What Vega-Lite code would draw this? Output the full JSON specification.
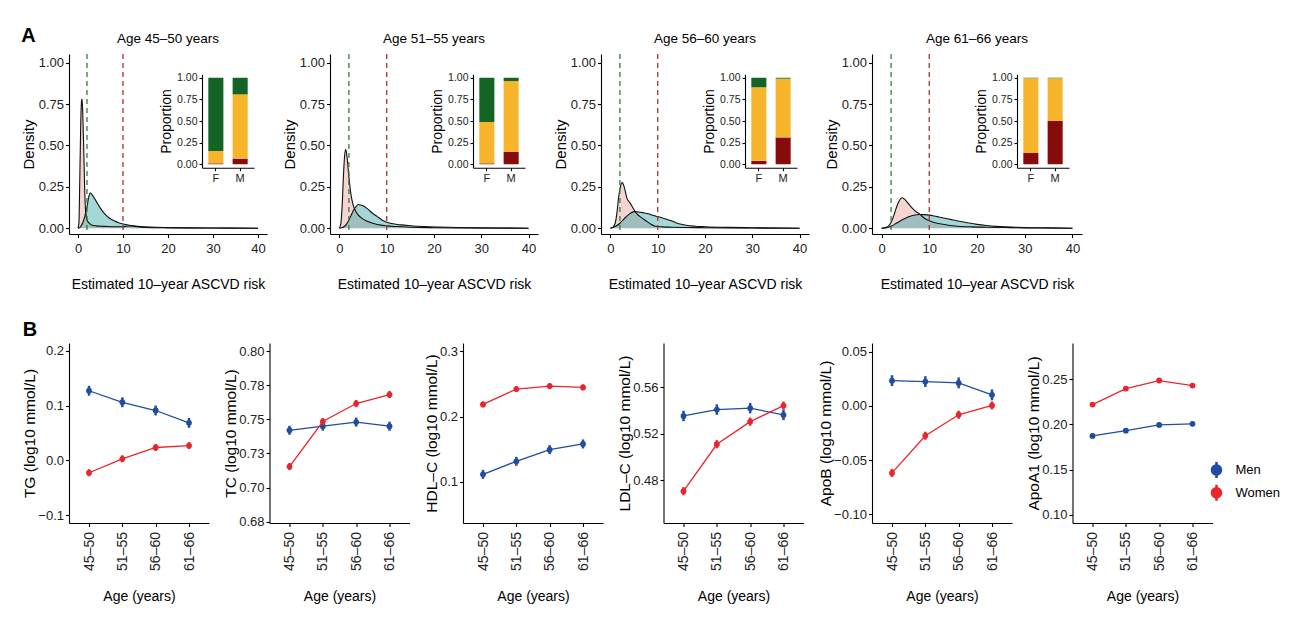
{
"$schema": "https://vega.github.io/schema/vega-lite/v6.json",
"background": "white",
"padding": {"left": 21, "top": 25, "right": 0, "bottom": 0},
"config": {
 "font": "Liberation Sans",
 "view": {"stroke": null},
 "axis": {"grid": false, "domainColor": "#000", "domainWidth": 1.1, "tickColor": "#000", "tickWidth": 1.1, "tickSize": 3.5, "labelColor": "#222", "labelFontSize": 13, "titleFontSize": 14, "titleFontWeight": "normal", "titleColor": "#000", "labelPadding": 2, "labelOverlap": false},
 "axisX": {"labelPadding": 5, "titlePadding": 22, "labelAngle": 0},
 "axisY": {"titlePadding": 2, "titleFontSize": 15},
 "title": {"color": "#000", "fontWeight": "normal", "fontSize": 13.5},
 "legend": {"labelColor": "#000", "titleColor": "#000", "padding": 0}
},
"datasets": {
 "dens": [
  {"age":"45–50","sex":"F","x":0,"d":0},{"age":"45–50","sex":"F","x":0.2,"d":0.03},{"age":"45–50","sex":"F","x":0.4,"d":0.3},{"age":"45–50","sex":"F","x":0.6,"d":0.62},{"age":"45–50","sex":"F","x":0.8,"d":0.77},{"age":"45–50","sex":"F","x":0.9,"d":0.78},{"age":"45–50","sex":"F","x":1.05,"d":0.7},{"age":"45–50","sex":"F","x":1.3,"d":0.45},{"age":"45–50","sex":"F","x":1.5,"d":0.22},{"age":"45–50","sex":"F","x":1.7,"d":0.1},{"age":"45–50","sex":"F","x":2,"d":0.05},{"age":"45–50","sex":"F","x":2.5,"d":0.03},{"age":"45–50","sex":"F","x":3,"d":0.02},{"age":"45–50","sex":"F","x":4,"d":0.014},{"age":"45–50","sex":"F","x":5,"d":0.012},{"age":"45–50","sex":"F","x":6,"d":0.011},{"age":"45–50","sex":"F","x":8,"d":0.009},{"age":"45–50","sex":"F","x":10,"d":0.009},{"age":"45–50","sex":"F","x":11,"d":0.013},{"age":"45–50","sex":"F","x":12,"d":0.014},{"age":"45–50","sex":"F","x":13,"d":0.009},{"age":"45–50","sex":"F","x":15,"d":0.004},{"age":"45–50","sex":"F","x":20,"d":0.002},{"age":"45–50","sex":"F","x":25,"d":0.001},{"age":"45–50","sex":"F","x":30,"d":0.0008},{"age":"45–50","sex":"F","x":35,"d":0.0004},{"age":"45–50","sex":"F","x":40,"d":0},
  {"age":"45–50","sex":"M","x":0,"d":0},{"age":"45–50","sex":"M","x":0.3,"d":0.002},{"age":"45–50","sex":"M","x":1,"d":0.03},{"age":"45–50","sex":"M","x":1.5,"d":0.07},{"age":"45–50","sex":"M","x":2,"d":0.13},{"age":"45–50","sex":"M","x":2.4,"d":0.19},{"age":"45–50","sex":"M","x":2.7,"d":0.214},{"age":"45–50","sex":"M","x":3.2,"d":0.2},{"age":"45–50","sex":"M","x":4,"d":0.165},{"age":"45–50","sex":"M","x":5,"d":0.12},{"age":"45–50","sex":"M","x":6,"d":0.085},{"age":"45–50","sex":"M","x":7,"d":0.06},{"age":"45–50","sex":"M","x":8,"d":0.045},{"age":"45–50","sex":"M","x":9,"d":0.033},{"age":"45–50","sex":"M","x":10,"d":0.025},{"age":"45–50","sex":"M","x":12,"d":0.015},{"age":"45–50","sex":"M","x":14,"d":0.01},{"age":"45–50","sex":"M","x":16,"d":0.007},{"age":"45–50","sex":"M","x":20,"d":0.004},{"age":"45–50","sex":"M","x":25,"d":0.002},{"age":"45–50","sex":"M","x":30,"d":0.001},{"age":"45–50","sex":"M","x":40,"d":0},
  {"age":"51–55","sex":"F","x":0,"d":0},{"age":"51–55","sex":"F","x":0.3,"d":0.03},{"age":"51–55","sex":"F","x":0.6,"d":0.15},{"age":"51–55","sex":"F","x":0.85,"d":0.32},{"age":"51–55","sex":"F","x":1.1,"d":0.44},{"age":"51–55","sex":"F","x":1.33,"d":0.477},{"age":"51–55","sex":"F","x":1.6,"d":0.43},{"age":"51–55","sex":"F","x":2,"d":0.31},{"age":"51–55","sex":"F","x":2.4,"d":0.21},{"age":"51–55","sex":"F","x":2.8,"d":0.15},{"age":"51–55","sex":"F","x":3.5,"d":0.1},{"age":"51–55","sex":"F","x":4.5,"d":0.065},{"age":"51–55","sex":"F","x":6,"d":0.04},{"age":"51–55","sex":"F","x":8,"d":0.022},{"age":"51–55","sex":"F","x":10,"d":0.014},{"age":"51–55","sex":"F","x":12,"d":0.01},{"age":"51–55","sex":"F","x":15,"d":0.006},{"age":"51–55","sex":"F","x":20,"d":0.003},{"age":"51–55","sex":"F","x":25,"d":0.0015},{"age":"51–55","sex":"F","x":30,"d":0.001},{"age":"51–55","sex":"F","x":40,"d":0},
  {"age":"51–55","sex":"M","x":0,"d":0},{"age":"51–55","sex":"M","x":0.5,"d":0.003},{"age":"51–55","sex":"M","x":1,"d":0.01},{"age":"51–55","sex":"M","x":1.5,"d":0.025},{"age":"51–55","sex":"M","x":2,"d":0.05},{"age":"51–55","sex":"M","x":2.5,"d":0.08},{"age":"51–55","sex":"M","x":3,"d":0.11},{"age":"51–55","sex":"M","x":3.5,"d":0.13},{"age":"51–55","sex":"M","x":4,"d":0.143},{"age":"51–55","sex":"M","x":4.5,"d":0.14},{"age":"51–55","sex":"M","x":5,"d":0.135},{"age":"51–55","sex":"M","x":6,"d":0.115},{"age":"51–55","sex":"M","x":7,"d":0.09},{"age":"51–55","sex":"M","x":8,"d":0.07},{"age":"51–55","sex":"M","x":9,"d":0.05},{"age":"51–55","sex":"M","x":10,"d":0.036},{"age":"51–55","sex":"M","x":11,"d":0.028},{"age":"51–55","sex":"M","x":13,"d":0.02},{"age":"51–55","sex":"M","x":15,"d":0.015},{"age":"51–55","sex":"M","x":18,"d":0.01},{"age":"51–55","sex":"M","x":21,"d":0.007},{"age":"51–55","sex":"M","x":25,"d":0.004},{"age":"51–55","sex":"M","x":30,"d":0.002},{"age":"51–55","sex":"M","x":35,"d":0.001},{"age":"51–55","sex":"M","x":40,"d":0},
  {"age":"56–60","sex":"F","x":0,"d":0},{"age":"56–60","sex":"F","x":0.5,"d":0.005},{"age":"56–60","sex":"F","x":1,"d":0.03},{"age":"56–60","sex":"F","x":1.4,"d":0.1},{"age":"56–60","sex":"F","x":1.7,"d":0.18},{"age":"56–60","sex":"F","x":2.1,"d":0.25},{"age":"56–60","sex":"F","x":2.5,"d":0.275},{"age":"56–60","sex":"F","x":2.9,"d":0.25},{"age":"56–60","sex":"F","x":3.5,"d":0.18},{"age":"56–60","sex":"F","x":4.2,"d":0.15},{"age":"56–60","sex":"F","x":4.8,"d":0.12},{"age":"56–60","sex":"F","x":5.5,"d":0.09},{"age":"56–60","sex":"F","x":6.5,"d":0.065},{"age":"56–60","sex":"F","x":7.5,"d":0.045},{"age":"56–60","sex":"F","x":8.5,"d":0.025},{"age":"56–60","sex":"F","x":9.5,"d":0.012},{"age":"56–60","sex":"F","x":11,"d":0.008},{"age":"56–60","sex":"F","x":13,"d":0.006},{"age":"56–60","sex":"F","x":16,"d":0.004},{"age":"56–60","sex":"F","x":20,"d":0.003},{"age":"56–60","sex":"F","x":25,"d":0.002},{"age":"56–60","sex":"F","x":30,"d":0.001},{"age":"56–60","sex":"F","x":40,"d":0},
  {"age":"56–60","sex":"M","x":0,"d":0},{"age":"56–60","sex":"M","x":1,"d":0.01},{"age":"56–60","sex":"M","x":2,"d":0.03},{"age":"56–60","sex":"M","x":3,"d":0.06},{"age":"56–60","sex":"M","x":4,"d":0.085},{"age":"56–60","sex":"M","x":5,"d":0.1},{"age":"56–60","sex":"M","x":6,"d":0.098},{"age":"56–60","sex":"M","x":7,"d":0.093},{"age":"56–60","sex":"M","x":8,"d":0.087},{"age":"56–60","sex":"M","x":9,"d":0.078},{"age":"56–60","sex":"M","x":10,"d":0.07},{"age":"56–60","sex":"M","x":11,"d":0.062},{"age":"56–60","sex":"M","x":12,"d":0.053},{"age":"56–60","sex":"M","x":13,"d":0.043},{"age":"56–60","sex":"M","x":14,"d":0.032},{"age":"56–60","sex":"M","x":15,"d":0.024},{"age":"56–60","sex":"M","x":16,"d":0.018},{"age":"56–60","sex":"M","x":18,"d":0.012},{"age":"56–60","sex":"M","x":20,"d":0.009},{"age":"56–60","sex":"M","x":25,"d":0.005},{"age":"56–60","sex":"M","x":30,"d":0.003},{"age":"56–60","sex":"M","x":35,"d":0.001},{"age":"56–60","sex":"M","x":40,"d":0},
  {"age":"61–66","sex":"F","x":0,"d":0},{"age":"61–66","sex":"F","x":1,"d":0.005},{"age":"61–66","sex":"F","x":1.9,"d":0.03},{"age":"61–66","sex":"F","x":2.5,"d":0.07},{"age":"61–66","sex":"F","x":3,"d":0.115},{"age":"61–66","sex":"F","x":3.6,"d":0.16},{"age":"61–66","sex":"F","x":4.3,"d":0.184},{"age":"61–66","sex":"F","x":5,"d":0.17},{"age":"61–66","sex":"F","x":6,"d":0.135},{"age":"61–66","sex":"F","x":7,"d":0.105},{"age":"61–66","sex":"F","x":8,"d":0.085},{"age":"61–66","sex":"F","x":9,"d":0.06},{"age":"61–66","sex":"F","x":10,"d":0.045},{"age":"61–66","sex":"F","x":11,"d":0.035},{"age":"61–66","sex":"F","x":12.5,"d":0.025},{"age":"61–66","sex":"F","x":14,"d":0.018},{"age":"61–66","sex":"F","x":16,"d":0.012},{"age":"61–66","sex":"F","x":19,"d":0.008},{"age":"61–66","sex":"F","x":22,"d":0.006},{"age":"61–66","sex":"F","x":26,"d":0.004},{"age":"61–66","sex":"F","x":30,"d":0.002},{"age":"61–66","sex":"F","x":35,"d":0.001},{"age":"61–66","sex":"F","x":40,"d":0},
  {"age":"61–66","sex":"M","x":0,"d":0},{"age":"61–66","sex":"M","x":1,"d":0.003},{"age":"61–66","sex":"M","x":2,"d":0.012},{"age":"61–66","sex":"M","x":3,"d":0.028},{"age":"61–66","sex":"M","x":4,"d":0.045},{"age":"61–66","sex":"M","x":5,"d":0.06},{"age":"61–66","sex":"M","x":6,"d":0.072},{"age":"61–66","sex":"M","x":7,"d":0.08},{"age":"61–66","sex":"M","x":8,"d":0.083},{"age":"61–66","sex":"M","x":9,"d":0.082},{"age":"61–66","sex":"M","x":10,"d":0.079},{"age":"61–66","sex":"M","x":11,"d":0.074},{"age":"61–66","sex":"M","x":12,"d":0.068},{"age":"61–66","sex":"M","x":13,"d":0.062},{"age":"61–66","sex":"M","x":14,"d":0.056},{"age":"61–66","sex":"M","x":15,"d":0.05},{"age":"61–66","sex":"M","x":16,"d":0.044},{"age":"61–66","sex":"M","x":18,"d":0.033},{"age":"61–66","sex":"M","x":20,"d":0.023},{"age":"61–66","sex":"M","x":22,"d":0.016},{"age":"61–66","sex":"M","x":24,"d":0.011},{"age":"61–66","sex":"M","x":26,"d":0.008},{"age":"61–66","sex":"M","x":28,"d":0.006},{"age":"61–66","sex":"M","x":30,"d":0.004},{"age":"61–66","sex":"M","x":35,"d":0.002},{"age":"61–66","sex":"M","x":40,"d":0}
 ],
 "cut": [
  {"age":"45–50","risk":"low","x":2},{"age":"45–50","risk":"high","x":10},
  {"age":"51–55","risk":"low","x":2},{"age":"51–55","risk":"high","x":10},
  {"age":"56–60","risk":"low","x":2},{"age":"56–60","risk":"high","x":10},
  {"age":"61–66","risk":"low","x":2},{"age":"61–66","risk":"high","x":10}
 ],
 "prop": [
  {"age":"45–50","sex":"F","risk":"High risk","k":1,"p":0.01},{"age":"45–50","sex":"F","risk":"Intermediate risk","k":2,"p":0.144},{"age":"45–50","sex":"F","risk":"Low risk","k":3,"p":0.846},
  {"age":"45–50","sex":"M","risk":"High risk","k":1,"p":0.065},{"age":"45–50","sex":"M","risk":"Intermediate risk","k":2,"p":0.743},{"age":"45–50","sex":"M","risk":"Low risk","k":3,"p":0.192},
  {"age":"51–55","sex":"F","risk":"High risk","k":1,"p":0.01},{"age":"51–55","sex":"F","risk":"Intermediate risk","k":2,"p":0.478},{"age":"51–55","sex":"F","risk":"Low risk","k":3,"p":0.512},
  {"age":"51–55","sex":"M","risk":"High risk","k":1,"p":0.145},{"age":"51–55","sex":"M","risk":"Intermediate risk","k":2,"p":0.817},{"age":"51–55","sex":"M","risk":"Low risk","k":3,"p":0.038},
  {"age":"56–60","sex":"F","risk":"High risk","k":1,"p":0.04},{"age":"56–60","sex":"F","risk":"Intermediate risk","k":2,"p":0.85},{"age":"56–60","sex":"F","risk":"Low risk","k":3,"p":0.11},
  {"age":"56–60","sex":"M","risk":"High risk","k":1,"p":0.31},{"age":"56–60","sex":"M","risk":"Intermediate risk","k":2,"p":0.68},{"age":"56–60","sex":"M","risk":"Low risk","k":3,"p":0.01},
  {"age":"61–66","sex":"F","risk":"High risk","k":1,"p":0.13},{"age":"61–66","sex":"F","risk":"Intermediate risk","k":2,"p":0.865},{"age":"61–66","sex":"F","risk":"Low risk","k":3,"p":0.005},
  {"age":"61–66","sex":"M","risk":"High risk","k":1,"p":0.5},{"age":"61–66","sex":"M","risk":"Intermediate risk","k":2,"p":0.495},{"age":"61–66","sex":"M","risk":"Low risk","k":3,"p":0.005}
 ],
 "lip": [
  {"m":"TG","sex":"Men","age":"45–50","v":0.127,"lo":0.118,"hi":0.136},{"m":"TG","sex":"Men","age":"51–55","v":0.106,"lo":0.097,"hi":0.115},{"m":"TG","sex":"Men","age":"56–60","v":0.091,"lo":0.082,"hi":0.1},{"m":"TG","sex":"Men","age":"61–66","v":0.0685,"lo":0.0595,"hi":0.0775},
  {"m":"TG","sex":"Women","age":"45–50","v":-0.0224,"lo":-0.0288,"hi":-0.016},{"m":"TG","sex":"Women","age":"51–55","v":0.003,"lo":-0.0034,"hi":0.0094},{"m":"TG","sex":"Women","age":"56–60","v":0.0236,"lo":0.0172,"hi":0.03},{"m":"TG","sex":"Women","age":"61–66","v":0.027,"lo":0.0206,"hi":0.0334},
  {"m":"TC","sex":"Men","age":"45–50","v":0.742,"lo":0.7387,"hi":0.7453},{"m":"TC","sex":"Men","age":"51–55","v":0.745,"lo":0.7417,"hi":0.7483},{"m":"TC","sex":"Men","age":"56–60","v":0.748,"lo":0.7447,"hi":0.7513},{"m":"TC","sex":"Men","age":"61–66","v":0.745,"lo":0.7417,"hi":0.7483},
  {"m":"TC","sex":"Women","age":"45–50","v":0.7154,"lo":0.7128,"hi":0.718},{"m":"TC","sex":"Women","age":"51–55","v":0.7484,"lo":0.7458,"hi":0.751},{"m":"TC","sex":"Women","age":"56–60","v":0.7616,"lo":0.759,"hi":0.7642},{"m":"TC","sex":"Women","age":"61–66","v":0.7682,"lo":0.7656,"hi":0.7708},
  {"m":"HDL","sex":"Men","age":"45–50","v":0.1116,"lo":0.1047,"hi":0.1185},{"m":"HDL","sex":"Men","age":"51–55","v":0.1316,"lo":0.1247,"hi":0.1385},{"m":"HDL","sex":"Men","age":"56–60","v":0.1495,"lo":0.1426,"hi":0.1564},{"m":"HDL","sex":"Men","age":"61–66","v":0.1582,"lo":0.1513,"hi":0.1651},
  {"m":"HDL","sex":"Women","age":"45–50","v":0.2188,"lo":0.2142,"hi":0.2234},{"m":"HDL","sex":"Women","age":"51–55","v":0.2424,"lo":0.2378,"hi":0.247},{"m":"HDL","sex":"Women","age":"56–60","v":0.247,"lo":0.2424,"hi":0.2516},{"m":"HDL","sex":"Women","age":"61–66","v":0.2449,"lo":0.2403,"hi":0.2495},
  {"m":"LDL","sex":"Men","age":"45–50","v":0.5352,"lo":0.5307,"hi":0.5397},{"m":"LDL","sex":"Men","age":"51–55","v":0.5407,"lo":0.5362,"hi":0.5452},{"m":"LDL","sex":"Men","age":"56–60","v":0.5419,"lo":0.5374,"hi":0.5464},{"m":"LDL","sex":"Men","age":"61–66","v":0.5361,"lo":0.5316,"hi":0.5406},
  {"m":"LDL","sex":"Women","age":"45–50","v":0.4704,"lo":0.4669,"hi":0.4739},{"m":"LDL","sex":"Women","age":"51–55","v":0.5108,"lo":0.5073,"hi":0.5143},{"m":"LDL","sex":"Women","age":"56–60","v":0.5303,"lo":0.5268,"hi":0.5338},{"m":"LDL","sex":"Women","age":"61–66","v":0.5441,"lo":0.5406,"hi":0.5476},
  {"m":"ApoB","sex":"Men","age":"45–50","v":0.0233,"lo":0.0183,"hi":0.0283},{"m":"ApoB","sex":"Men","age":"51–55","v":0.0224,"lo":0.0174,"hi":0.0274},{"m":"ApoB","sex":"Men","age":"56–60","v":0.0212,"lo":0.0162,"hi":0.0262},{"m":"ApoB","sex":"Men","age":"61–66","v":0.0102,"lo":0.0052,"hi":0.0152},
  {"m":"ApoB","sex":"Women","age":"45–50","v":-0.0618,"lo":-0.0655,"hi":-0.0581},{"m":"ApoB","sex":"Women","age":"51–55","v":-0.0275,"lo":-0.0312,"hi":-0.0238},{"m":"ApoB","sex":"Women","age":"56–60","v":-0.0082,"lo":-0.0119,"hi":-0.0045},{"m":"ApoB","sex":"Women","age":"61–66","v":0.0004,"lo":-0.0033,"hi":0.0041},
  {"m":"ApoA1","sex":"Men","age":"45–50","v":0.1873,"lo":0.1848,"hi":0.1898},{"m":"ApoA1","sex":"Men","age":"51–55","v":0.1931,"lo":0.1906,"hi":0.1956},{"m":"ApoA1","sex":"Men","age":"56–60","v":0.1994,"lo":0.1969,"hi":0.2019},{"m":"ApoA1","sex":"Men","age":"61–66","v":0.2006,"lo":0.1981,"hi":0.2031},
  {"m":"ApoA1","sex":"Women","age":"45–50","v":0.2219,"lo":0.2194,"hi":0.2244},{"m":"ApoA1","sex":"Women","age":"51–55","v":0.2396,"lo":0.2371,"hi":0.2421},{"m":"ApoA1","sex":"Women","age":"56–60","v":0.2485,"lo":0.246,"hi":0.251},{"m":"ApoA1","sex":"Women","age":"61–66","v":0.2429,"lo":0.2404,"hi":0.2454}
 ]
},
"vconcat": [
 {
  "title": {"text": "A", "anchor": "start", "fontSize": 20, "fontWeight": "bold", "offset": -14},
  "spacing": 15,
  "resolve": {"scale": {"color": "independent"}},
  "hconcat": [
   {
    "width": 198, "height": 180,
    "title": {"text": "Age 45–50 years", "frame": "group", "offset": 8, "fontSize": 13.5},
    "resolve": {"scale": {"x": "independent", "y": "independent"}, "axis": {"x": "independent", "y": "independent"}},
    "layer": [
     {
      "encoding": {"x": {"field": "x", "type": "quantitative", "scale": {"domain": [-2, 42], "nice": false, "zero": false}, "axis": {"values": [0,10,20,30,40], "title": "Estimated 10–year ASCVD risk"}}},
      "layer": [
       {"data": {"name": "dens"}, "transform": [{"filter": "datum.age === '45–50' && datum.sex === 'F'"}], "mark": {"type": "area", "interpolate": "monotone", "color": "#E89C93", "opacity": 0.42}, "encoding": {"y": {"field": "d", "type": "quantitative", "stack": null, "scale": {"domain": [-0.035, 1.052], "nice": false, "zero": false}, "axis": {"values": [0,0.25,0.5,0.75,1], "format": ".2f", "title": "Density"}}}},
       {"data": {"name": "dens"}, "transform": [{"filter": "datum.age === '45–50' && datum.sex === 'M'"}], "mark": {"type": "area", "interpolate": "monotone", "color": "#2A9FA0", "opacity": 0.42}, "encoding": {"y": {"field": "d", "type": "quantitative", "stack": null, "scale": {"domain": [-0.035, 1.052], "nice": false, "zero": false}, "axis": {"values": [0,0.25,0.5,0.75,1], "format": ".2f", "title": "Density"}}}},
       {"data": {"name": "dens"}, "transform": [{"filter": "datum.age === '45–50'"}], "mark": {"type": "line", "interpolate": "monotone", "color": "#111", "strokeWidth": 1.1}, "encoding": {"detail": {"field": "sex"}, "y": {"field": "d", "type": "quantitative", "stack": null, "scale": {"domain": [-0.035, 1.052], "nice": false, "zero": false}, "axis": {"values": [0,0.25,0.5,0.75,1], "format": ".2f", "title": "Density"}}}},
       {"data": {"name": "cut"}, "transform": [{"filter": "datum.age === '45–50'"}], "mark": {"type": "rule", "strokeWidth": 1.3, "strokeDash": [5, 4]}, "encoding": {"x": {"field": "x", "type": "quantitative"}, "color": {"field": "risk", "type": "nominal", "scale": {"domain": ["low","high"], "range": ["#2F7F3F","#A83232"]}, "legend": null}}}
      ]
     },
     {
      "data": {"name": "prop"},
      "transform": [{"filter": "datum.age === '45–50'"}],
      "mark": {"type": "bar"},
      "encoding": {
       "x": {"field": "sex", "type": "nominal", "scale": {"domain": ["F","M"], "range": [133, 185], "paddingInner": 0.38, "paddingOuter": 0.26}, "axis": {"orient": "bottom", "offset": -66.3, "title": null, "labelAngle": 0, "labelPadding": 2, "labelFontSize": 11, "tickSize": 3}},
       "y": {"field": "p", "type": "quantitative", "stack": "zero", "scale": {"domain": [-0.04, 1.04], "range": [113.7, 20.3], "nice": false, "zero": false}, "axis": {"orient": "left", "offset": -133, "values": [0,0.25,0.5,0.75,1], "tickCount": 10, "format": ".2f", "title": "Proportion", "labelFontSize": 10.5, "tickSize": 3, "titlePadding": 3, "titleFontSize": 14}},
       "fill": {"field": "risk", "type": "nominal", "scale": {"domain": ["Low risk","Intermediate risk","High risk"], "range": ["#146426","#F7B52C","#870B0D"]}, "legend": null},
       "order": {"field": "k", "type": "quantitative"}
      }
     }
    ]
   },
   {
    "width": 208, "height": 180,
    "title": {"text": "Age 51–55 years", "frame": "group", "offset": 8, "fontSize": 13.5},
    "resolve": {"scale": {"x": "independent", "y": "independent"}, "axis": {"x": "independent", "y": "independent"}},
    "layer": [
     {
      "encoding": {"x": {"field": "x", "type": "quantitative", "scale": {"domain": [-2, 42], "nice": false, "zero": false}, "axis": {"values": [0,10,20,30,40], "title": "Estimated 10–year ASCVD risk"}}},
      "layer": [
       {"data": {"name": "dens"}, "transform": [{"filter": "datum.age === '51–55' && datum.sex === 'F'"}], "mark": {"type": "area", "interpolate": "monotone", "color": "#E89C93", "opacity": 0.42}, "encoding": {"y": {"field": "d", "type": "quantitative", "stack": null, "scale": {"domain": [-0.035, 1.052], "nice": false, "zero": false}, "axis": {"values": [0,0.25,0.5,0.75,1], "format": ".2f", "title": "Density"}}}},
       {"data": {"name": "dens"}, "transform": [{"filter": "datum.age === '51–55' && datum.sex === 'M'"}], "mark": {"type": "area", "interpolate": "monotone", "color": "#2A9FA0", "opacity": 0.42}, "encoding": {"y": {"field": "d", "type": "quantitative", "stack": null, "scale": {"domain": [-0.035, 1.052], "nice": false, "zero": false}, "axis": {"values": [0,0.25,0.5,0.75,1], "format": ".2f", "title": "Density"}}}},
       {"data": {"name": "dens"}, "transform": [{"filter": "datum.age === '51–55'"}], "mark": {"type": "line", "interpolate": "monotone", "color": "#111", "strokeWidth": 1.1}, "encoding": {"detail": {"field": "sex"}, "y": {"field": "d", "type": "quantitative", "stack": null, "scale": {"domain": [-0.035, 1.052], "nice": false, "zero": false}, "axis": {"values": [0,0.25,0.5,0.75,1], "format": ".2f", "title": "Density"}}}},
       {"data": {"name": "cut"}, "transform": [{"filter": "datum.age === '51–55'"}], "mark": {"type": "rule", "strokeWidth": 1.3, "strokeDash": [5, 4]}, "encoding": {"x": {"field": "x", "type": "quantitative"}, "color": {"field": "risk", "type": "nominal", "scale": {"domain": ["low","high"], "range": ["#2F7F3F","#A83232"]}, "legend": null}}}
      ]
     },
     {
      "data": {"name": "prop"},
      "transform": [{"filter": "datum.age === '51–55'"}],
      "mark": {"type": "bar"},
      "encoding": {
       "x": {"field": "sex", "type": "nominal", "scale": {"domain": ["F","M"], "range": [143, 195], "paddingInner": 0.38, "paddingOuter": 0.26}, "axis": {"orient": "bottom", "offset": -66.3, "title": null, "labelAngle": 0, "labelPadding": 2, "labelFontSize": 11, "tickSize": 3}},
       "y": {"field": "p", "type": "quantitative", "stack": "zero", "scale": {"domain": [-0.04, 1.04], "range": [113.7, 20.3], "nice": false, "zero": false}, "axis": {"orient": "left", "offset": -143, "values": [0,0.25,0.5,0.75,1], "tickCount": 10, "format": ".2f", "title": "Proportion", "labelFontSize": 10.5, "tickSize": 3, "titlePadding": 3, "titleFontSize": 14}},
       "fill": {"field": "risk", "type": "nominal", "scale": {"domain": ["Low risk","Intermediate risk","High risk"], "range": ["#146426","#F7B52C","#870B0D"]}, "legend": null},
       "order": {"field": "k", "type": "quantitative"}
      }
     }
    ]
   },
   {
    "width": 208, "height": 180,
    "title": {"text": "Age 56–60 years", "frame": "group", "offset": 8, "fontSize": 13.5},
    "resolve": {"scale": {"x": "independent", "y": "independent"}, "axis": {"x": "independent", "y": "independent"}},
    "layer": [
     {
      "encoding": {"x": {"field": "x", "type": "quantitative", "scale": {"domain": [-2, 42], "nice": false, "zero": false}, "axis": {"values": [0,10,20,30,40], "title": "Estimated 10–year ASCVD risk"}}},
      "layer": [
       {"data": {"name": "dens"}, "transform": [{"filter": "datum.age === '56–60' && datum.sex === 'F'"}], "mark": {"type": "area", "interpolate": "monotone", "color": "#E89C93", "opacity": 0.42}, "encoding": {"y": {"field": "d", "type": "quantitative", "stack": null, "scale": {"domain": [-0.035, 1.052], "nice": false, "zero": false}, "axis": {"values": [0,0.25,0.5,0.75,1], "format": ".2f", "title": "Density"}}}},
       {"data": {"name": "dens"}, "transform": [{"filter": "datum.age === '56–60' && datum.sex === 'M'"}], "mark": {"type": "area", "interpolate": "monotone", "color": "#2A9FA0", "opacity": 0.42}, "encoding": {"y": {"field": "d", "type": "quantitative", "stack": null, "scale": {"domain": [-0.035, 1.052], "nice": false, "zero": false}, "axis": {"values": [0,0.25,0.5,0.75,1], "format": ".2f", "title": "Density"}}}},
       {"data": {"name": "dens"}, "transform": [{"filter": "datum.age === '56–60'"}], "mark": {"type": "line", "interpolate": "monotone", "color": "#111", "strokeWidth": 1.1}, "encoding": {"detail": {"field": "sex"}, "y": {"field": "d", "type": "quantitative", "stack": null, "scale": {"domain": [-0.035, 1.052], "nice": false, "zero": false}, "axis": {"values": [0,0.25,0.5,0.75,1], "format": ".2f", "title": "Density"}}}},
       {"data": {"name": "cut"}, "transform": [{"filter": "datum.age === '56–60'"}], "mark": {"type": "rule", "strokeWidth": 1.3, "strokeDash": [5, 4]}, "encoding": {"x": {"field": "x", "type": "quantitative"}, "color": {"field": "risk", "type": "nominal", "scale": {"domain": ["low","high"], "range": ["#2F7F3F","#A83232"]}, "legend": null}}}
      ]
     },
     {
      "data": {"name": "prop"},
      "transform": [{"filter": "datum.age === '56–60'"}],
      "mark": {"type": "bar"},
      "encoding": {
       "x": {"field": "sex", "type": "nominal", "scale": {"domain": ["F","M"], "range": [144, 196], "paddingInner": 0.38, "paddingOuter": 0.26}, "axis": {"orient": "bottom", "offset": -66.3, "title": null, "labelAngle": 0, "labelPadding": 2, "labelFontSize": 11, "tickSize": 3}},
       "y": {"field": "p", "type": "quantitative", "stack": "zero", "scale": {"domain": [-0.04, 1.04], "range": [113.7, 20.3], "nice": false, "zero": false}, "axis": {"orient": "left", "offset": -144, "values": [0,0.25,0.5,0.75,1], "tickCount": 10, "format": ".2f", "title": "Proportion", "labelFontSize": 10.5, "tickSize": 3, "titlePadding": 3, "titleFontSize": 14}},
       "fill": {"field": "risk", "type": "nominal", "scale": {"domain": ["Low risk","Intermediate risk","High risk"], "range": ["#146426","#F7B52C","#870B0D"]}, "legend": null},
       "order": {"field": "k", "type": "quantitative"}
      }
     }
    ]
   },
   {
    "width": 210, "height": 180,
    "title": {"text": "Age 61–66 years", "frame": "group", "offset": 8, "fontSize": 13.5},
    "resolve": {"scale": {"x": "independent", "y": "independent"}, "axis": {"x": "independent", "y": "independent"}},
    "layer": [
     {
      "encoding": {"x": {"field": "x", "type": "quantitative", "scale": {"domain": [-2, 42], "nice": false, "zero": false}, "axis": {"values": [0,10,20,30,40], "title": "Estimated 10–year ASCVD risk"}}},
      "layer": [
       {"data": {"name": "dens"}, "transform": [{"filter": "datum.age === '61–66' && datum.sex === 'F'"}], "mark": {"type": "area", "interpolate": "monotone", "color": "#E89C93", "opacity": 0.42}, "encoding": {"y": {"field": "d", "type": "quantitative", "stack": null, "scale": {"domain": [-0.035, 1.052], "nice": false, "zero": false}, "axis": {"values": [0,0.25,0.5,0.75,1], "format": ".2f", "title": "Density"}}}},
       {"data": {"name": "dens"}, "transform": [{"filter": "datum.age === '61–66' && datum.sex === 'M'"}], "mark": {"type": "area", "interpolate": "monotone", "color": "#2A9FA0", "opacity": 0.42}, "encoding": {"y": {"field": "d", "type": "quantitative", "stack": null, "scale": {"domain": [-0.035, 1.052], "nice": false, "zero": false}, "axis": {"values": [0,0.25,0.5,0.75,1], "format": ".2f", "title": "Density"}}}},
       {"data": {"name": "dens"}, "transform": [{"filter": "datum.age === '61–66'"}], "mark": {"type": "line", "interpolate": "monotone", "color": "#111", "strokeWidth": 1.1}, "encoding": {"detail": {"field": "sex"}, "y": {"field": "d", "type": "quantitative", "stack": null, "scale": {"domain": [-0.035, 1.052], "nice": false, "zero": false}, "axis": {"values": [0,0.25,0.5,0.75,1], "format": ".2f", "title": "Density"}}}},
       {"data": {"name": "cut"}, "transform": [{"filter": "datum.age === '61–66'"}], "mark": {"type": "rule", "strokeWidth": 1.3, "strokeDash": [5, 4]}, "encoding": {"x": {"field": "x", "type": "quantitative"}, "color": {"field": "risk", "type": "nominal", "scale": {"domain": ["low","high"], "range": ["#2F7F3F","#A83232"]}, "legend": null}}}
      ]
     },
     {
      "data": {"name": "prop"},
      "transform": [{"filter": "datum.age === '61–66'"}],
      "mark": {"type": "bar"},
      "encoding": {
       "x": {"field": "sex", "type": "nominal", "scale": {"domain": ["F","M"], "range": [145, 197], "paddingInner": 0.38, "paddingOuter": 0.26}, "axis": {"orient": "bottom", "offset": -66.3, "title": null, "labelAngle": 0, "labelPadding": 2, "labelFontSize": 11, "tickSize": 3}},
       "y": {"field": "p", "type": "quantitative", "stack": "zero", "scale": {"domain": [-0.04, 1.04], "range": [113.7, 20.3], "nice": false, "zero": false}, "axis": {"orient": "left", "offset": -145, "values": [0,0.25,0.5,0.75,1], "tickCount": 10, "format": ".2f", "title": "Proportion", "labelFontSize": 10.5, "tickSize": 3, "titlePadding": 3, "titleFontSize": 14}},
       "fill": {"field": "risk", "type": "nominal", "scale": {"domain": ["Low risk","Intermediate risk","High risk"], "range": ["#146426","#F7B52C","#870B0D"]}, "legend": {"title": "ASCVD", "orient": "none", "legendX": 251, "legendY": 52, "symbolType": "M-0.88,-0.98H0.88V0.98H-0.88Z", "symbolSize": 625, "symbolStrokeWidth": 0, "labelFontSize": 13, "titleFontSize": 14, "titleFontWeight": "normal", "titlePadding": 7, "labelOffset": 5, "rowPadding": 0.5, "padding": 0}},
       "order": {"field": "k", "type": "quantitative"}
      }
     }
    ]
   }
  ]
 },
 {
  "title": {"text": "B", "anchor": "start", "fontSize": 20, "fontWeight": "bold", "offset": 3},
  "spacing": 14.5,
  "resolve": {"scale": {"color": "independent"}},
  "hconcat": [
   {
    "width": 140, "height": 180,
    "data": {"name": "lip"},
    "transform": [{"filter": "datum.m === 'TG'"}],
    "encoding": {
     "x": {"field": "age", "type": "ordinal", "scale": {"type": "point", "padding": 0.6, "domain": ["45–50","51–55","56–60","61–66"]}, "axis": {"title": "Age (years)", "labelAngle": 270, "labelPadding": 5, "titlePadding": 19, "labelFontSize": 14}},
     "color": {"field": "sex", "type": "nominal", "scale": {"domain": ["Men","Women"], "range": ["#214DA0","#E8262D"]}, "legend": null}
    },
    "layer": [
     {"mark": {"type": "point", "filled": true, "size": 34, "opacity": 1}, "encoding": {"y": {"field": "v", "type": "quantitative", "scale": {"domain": [-0.114, 0.214], "nice": false, "zero": false}, "axis": {"values": [-0.1,0,0.1,0.2], "tickCount": 10, "format": ".1f", "title": "TG (log10 mmol/L)", "titleFontSize": 15.5, "titlePadding": 0}}}},
     {"mark": {"type": "line", "strokeWidth": 1.3}, "encoding": {"y": {"field": "v", "type": "quantitative"}}},
     {"mark": {"type": "rule", "strokeWidth": 2.5}, "encoding": {"y": {"field": "lo", "type": "quantitative"}, "y2": {"field": "hi"}}}
    ]
   },
   {
    "width": 140, "height": 180,
    "data": {"name": "lip"},
    "transform": [{"filter": "datum.m === 'TC'"}],
    "encoding": {
     "x": {"field": "age", "type": "ordinal", "scale": {"type": "point", "padding": 0.6, "domain": ["45–50","51–55","56–60","61–66"]}, "axis": {"title": "Age (years)", "labelAngle": 270, "labelPadding": 5, "titlePadding": 19, "labelFontSize": 14}},
     "color": {"field": "sex", "type": "nominal", "scale": {"domain": ["Men","Women"], "range": ["#214DA0","#E8262D"]}, "legend": null}
    },
    "layer": [
     {"mark": {"type": "point", "filled": true, "size": 34, "opacity": 1}, "encoding": {"y": {"field": "v", "type": "quantitative", "scale": {"domain": [0.674, 0.806], "nice": false, "zero": false}, "axis": {"values": [0.6750001,0.7,0.7250001,0.75,0.7750001,0.8], "tickCount": 10, "format": ".2f", "title": "TC (log10 mmol/L)", "titleFontSize": 15.5, "titlePadding": 0}}}},
     {"mark": {"type": "line", "strokeWidth": 1.3}, "encoding": {"y": {"field": "v", "type": "quantitative"}}},
     {"mark": {"type": "rule", "strokeWidth": 2.5}, "encoding": {"y": {"field": "lo", "type": "quantitative"}, "y2": {"field": "hi"}}}
    ]
   },
   {
    "width": 140, "height": 180,
    "data": {"name": "lip"},
    "transform": [{"filter": "datum.m === 'HDL'"}],
    "encoding": {
     "x": {"field": "age", "type": "ordinal", "scale": {"type": "point", "padding": 0.6, "domain": ["45–50","51–55","56–60","61–66"]}, "axis": {"title": "Age (years)", "labelAngle": 270, "labelPadding": 5, "titlePadding": 19, "labelFontSize": 14}},
     "color": {"field": "sex", "type": "nominal", "scale": {"domain": ["Men","Women"], "range": ["#214DA0","#E8262D"]}, "legend": null}
    },
    "layer": [
     {"mark": {"type": "point", "filled": true, "size": 34, "opacity": 1}, "encoding": {"y": {"field": "v", "type": "quantitative", "scale": {"domain": [0.037, 0.313], "nice": false, "zero": false}, "axis": {"values": [0.1,0.2,0.3], "format": ".1f", "title": "HDL–C (log10 mmol/L)", "titleFontSize": 15.5, "titlePadding": 0}}}},
     {"mark": {"type": "line", "strokeWidth": 1.3}, "encoding": {"y": {"field": "v", "type": "quantitative"}}},
     {"mark": {"type": "rule", "strokeWidth": 2.5}, "encoding": {"y": {"field": "lo", "type": "quantitative"}, "y2": {"field": "hi"}}}
    ]
   },
   {
    "width": 140, "height": 180,
    "data": {"name": "lip"},
    "transform": [{"filter": "datum.m === 'LDL'"}],
    "encoding": {
     "x": {"field": "age", "type": "ordinal", "scale": {"type": "point", "padding": 0.6, "domain": ["45–50","51–55","56–60","61–66"]}, "axis": {"title": "Age (years)", "labelAngle": 270, "labelPadding": 5, "titlePadding": 19, "labelFontSize": 14}},
     "color": {"field": "sex", "type": "nominal", "scale": {"domain": ["Men","Women"], "range": ["#214DA0","#E8262D"]}, "legend": null}
    },
    "layer": [
     {"mark": {"type": "point", "filled": true, "size": 34, "opacity": 1}, "encoding": {"y": {"field": "v", "type": "quantitative", "scale": {"domain": [0.443, 0.598], "nice": false, "zero": false}, "axis": {"values": [0.48,0.52,0.56], "format": ".2f", "title": "LDL–C (log10 mmol/L)", "titleFontSize": 15.5, "titlePadding": 0}}}},
     {"mark": {"type": "line", "strokeWidth": 1.3}, "encoding": {"y": {"field": "v", "type": "quantitative"}}},
     {"mark": {"type": "rule", "strokeWidth": 2.5}, "encoding": {"y": {"field": "lo", "type": "quantitative"}, "y2": {"field": "hi"}}}
    ]
   },
   {
    "width": 140, "height": 180,
    "data": {"name": "lip"},
    "transform": [{"filter": "datum.m === 'ApoB'"}],
    "encoding": {
     "x": {"field": "age", "type": "ordinal", "scale": {"type": "point", "padding": 0.6, "domain": ["45–50","51–55","56–60","61–66"]}, "axis": {"title": "Age (years)", "labelAngle": 270, "labelPadding": 5, "titlePadding": 19, "labelFontSize": 14}},
     "color": {"field": "sex", "type": "nominal", "scale": {"domain": ["Men","Women"], "range": ["#214DA0","#E8262D"]}, "legend": null}
    },
    "layer": [
     {"mark": {"type": "point", "filled": true, "size": 34, "opacity": 1}, "encoding": {"y": {"field": "v", "type": "quantitative", "scale": {"domain": [-0.108, 0.058], "nice": false, "zero": false}, "axis": {"values": [-0.1,-0.05,0,0.05], "tickCount": 10, "format": ".2f", "title": "ApoB (log10 mmol/L)", "titleFontSize": 15.5, "titlePadding": 0}}}},
     {"mark": {"type": "line", "strokeWidth": 1.3}, "encoding": {"y": {"field": "v", "type": "quantitative"}}},
     {"mark": {"type": "rule", "strokeWidth": 2.5}, "encoding": {"y": {"field": "lo", "type": "quantitative"}, "y2": {"field": "hi"}}}
    ]
   },
   {
    "width": 140, "height": 180,
    "data": {"name": "lip"},
    "transform": [{"filter": "datum.m === 'ApoA1'"}],
    "encoding": {
     "x": {"field": "age", "type": "ordinal", "scale": {"type": "point", "padding": 0.6, "domain": ["45–50","51–55","56–60","61–66"]}, "axis": {"title": "Age (years)", "labelAngle": 270, "labelPadding": 5, "titlePadding": 19, "labelFontSize": 14}},
     "color": {"field": "sex", "type": "nominal", "scale": {"domain": ["Men","Women"], "range": ["#214DA0","#E8262D"]}, "legend": {"title": null, "orient": "none", "legendX": 136, "legendY": 119, "symbolType": "M-0.16,-1H0.16V1H-0.16Z M-0.72,0A0.72,0.72 0 1,1 0.72,0A0.72,0.72 0 1,1 -0.72,0Z", "symbolSize": 256, "symbolStrokeWidth": 0, "labelFontSize": 13, "labelOffset": 11, "rowPadding": 6.7, "padding": 0}}
    },
    "layer": [
     {"mark": {"type": "point", "filled": true, "size": 34, "opacity": 1}, "encoding": {"y": {"field": "v", "type": "quantitative", "scale": {"domain": [0.091, 0.29], "nice": false, "zero": false}, "axis": {"values": [0.1,0.15,0.2,0.25], "tickCount": 10, "format": ".2f", "title": "ApoA1 (log10 mmol/L)", "titleFontSize": 15.5, "titlePadding": 0}}}},
     {"mark": {"type": "line", "strokeWidth": 1.3}, "encoding": {"y": {"field": "v", "type": "quantitative"}}},
     {"mark": {"type": "rule", "strokeWidth": 2.5}, "encoding": {"y": {"field": "lo", "type": "quantitative"}, "y2": {"field": "hi"}}}
    ]
   }
  ]
 }
],
"spacing": 28,
"resolve": {"scale": {"color": "independent", "fill": "independent"}}
}
